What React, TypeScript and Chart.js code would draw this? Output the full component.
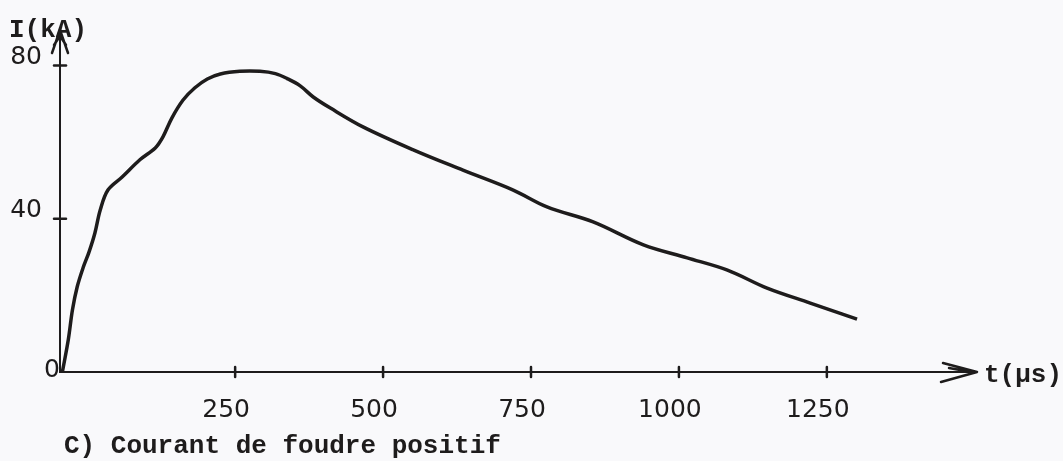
import React, { useEffect, useRef } from "react";
import { Chart, registerables } from "chart.js";

Chart.register(...registerables);

// Values (time in µs, current in kA)
const timeUs = [-42, -32, -25, -17, -7, 3, 13, 22, 35, 59, 89, 115, 128, 143, 162, 182, 203, 225, 258, 292, 318, 338, 360, 382, 411, 466, 551, 635, 720, 777, 855, 940, 1014, 1082, 1149, 1222, 1301];
const currentKA = [0, 8.4, 16.2, 22.2, 27.2, 31.3, 36.3, 42.3, 47.5, 50.9, 55.4, 58.5, 61.4, 66.3, 71.0, 74.2, 76.5, 77.8, 78.5, 78.5, 77.9, 76.6, 74.7, 71.8, 68.9, 64.0, 58.0, 52.7, 47.5, 43.1, 39.2, 33.2, 29.8, 26.6, 21.9, 18.0, 13.8];
const xTickValues = [250, 500, 750, 1000, 1250];
const yTickValues = [0, 40, 80];
const xRange = [-46, 1497];
const yRange = [0, 88.5];
const yAxisTitle = "I(kA)";
const xAxisTitle = "t(µs)";
const caption = "C) Courant de foudre positif";

const INK = "#1e1c1c";
const PAPER = "#f9f9fb";
const MONO = "'Liberation Mono', 'DejaVu Sans Mono', monospace";
const NUM = "'DejaVu Sans', sans-serif";

const decor = {
  id: "decor",
  beforeDraw(chart: any) {
    const { ctx, width, height } = chart;
    ctx.save();
    ctx.fillStyle = PAPER;
    ctx.fillRect(0, 0, width, height);
    ctx.restore();
  },
  afterDraw(chart: any) {
    const { ctx, chartArea: a, scales } = chart;
    const sx = scales.x;
    const sy = scales.y;
    const ox = a.left;
    const oy = sy.getPixelForValue(0);
    ctx.save();
    ctx.strokeStyle = INK;
    ctx.lineCap = "round";
    ctx.lineJoin = "round";
    ctx.lineWidth = 2.5;
    // y arrow head (double-struck, hand drawn look)
    ctx.beginPath();
    ctx.moveTo(ox - 8, a.top + 20);
    ctx.lineTo(ox, a.top - 3);
    ctx.lineTo(ox + 8, a.top + 20);
    ctx.moveTo(ox - 6, a.top + 12);
    ctx.lineTo(ox, a.top + 3);
    ctx.lineTo(ox + 6, a.top + 12);
    ctx.stroke();
    // x arrow head
    ctx.beginPath();
    ctx.moveTo(a.right - 30, oy - 9);
    ctx.lineTo(a.right + 4, oy);
    ctx.lineTo(a.right - 32, oy + 10);
    ctx.moveTo(a.right - 24, oy - 4);
    ctx.lineTo(a.right - 2, oy);
    ctx.stroke();
    // tick crosses
    ctx.lineWidth = 2.5;
    xTickValues.forEach((v) => {
      const px = sx.getPixelForValue(v);
      ctx.beginPath();
      ctx.moveTo(px, oy - 5);
      ctx.lineTo(px, oy + 5);
      ctx.stroke();
    });
    yTickValues
      .filter((v) => v > 0)
      .forEach((v) => {
        const py = sy.getPixelForValue(v);
        ctx.beginPath();
        ctx.moveTo(ox - 6, py);
        ctx.lineTo(ox + 6, py);
        ctx.stroke();
      });
    // texts
    ctx.fillStyle = INK;
    ctx.font = `bold 26px ${MONO}`;
    ctx.textBaseline = "alphabetic";
    ctx.textAlign = "left";
    ctx.fillText(yAxisTitle, 9, 37);
    ctx.fillText(xAxisTitle, 984, 382);
    ctx.fillText(caption, 64, 453);
    ctx.font = `25px ${NUM}`;
    ctx.textAlign = "center";
    ctx.textBaseline = "middle";
    ctx.fillText(String(yTickValues[0]), ox - 8, oy - 2);
    ctx.restore();
  },
};

export default function App() {
  const ref = useRef<HTMLCanvasElement | null>(null);
  useEffect(() => {
    document.body.style.margin = "0";
    document.body.style.background = PAPER;
    const canvas = ref.current;
    if (!canvas) return;
    const chart = new Chart(canvas, {
      type: "line",
      data: {
        datasets: [
          {
            data: timeUs.map((t, i) => ({ x: t, y: currentKA[i] })),
            borderColor: INK,
            borderWidth: 3.5,
            pointRadius: 0,
            fill: false,
            tension: 0.35,
          },
        ],
      },
      options: {
        responsive: false,
        animation: false,
        devicePixelRatio: 1,
        layout: { padding: { left: 0, right: 90, top: 33, bottom: 0 } },
        plugins: { legend: { display: false }, tooltip: { enabled: false } },
        scales: {
          x: {
            type: "linear",
            min: xRange[0],
            max: xRange[1],
            afterBuildTicks: (s: any) => {
              s.ticks = xTickValues.map((v) => ({ value: v }));
            },
            afterFit: (s: any) => {
              s.height = 89;
            },
            grid: { display: false },
            border: { display: true, color: INK, width: 2 },
            ticks: {
              autoSkip: false,
              maxRotation: 0,
              padding: 15,
              labelOffset: -9,
              color: INK,
              font: { family: NUM, size: 25 },
              callback: (v: any) => String(v),
            },
          },
          y: {
            type: "linear",
            min: yRange[0],
            max: yRange[1],
            afterBuildTicks: (s: any) => {
              s.ticks = yTickValues.map((v) => ({ value: v }));
            },
            afterFit: (s: any) => {
              s.width = 60;
            },
            grid: { display: false },
            border: { display: true, color: INK, width: 2 },
            ticks: {
              autoSkip: false,
              padding: 10,
              labelOffset: -8,
              color: INK,
              font: { family: NUM, size: 25 },
              callback: (v: any) => (v === 0 ? "" : String(v)),
            },
          },
        },
      },
      plugins: [decor],
    } as any);
    return () => chart.destroy();
  }, []);
  return <canvas ref={ref} width={1063} height={461} style={{ display: "block" }} />;
}
